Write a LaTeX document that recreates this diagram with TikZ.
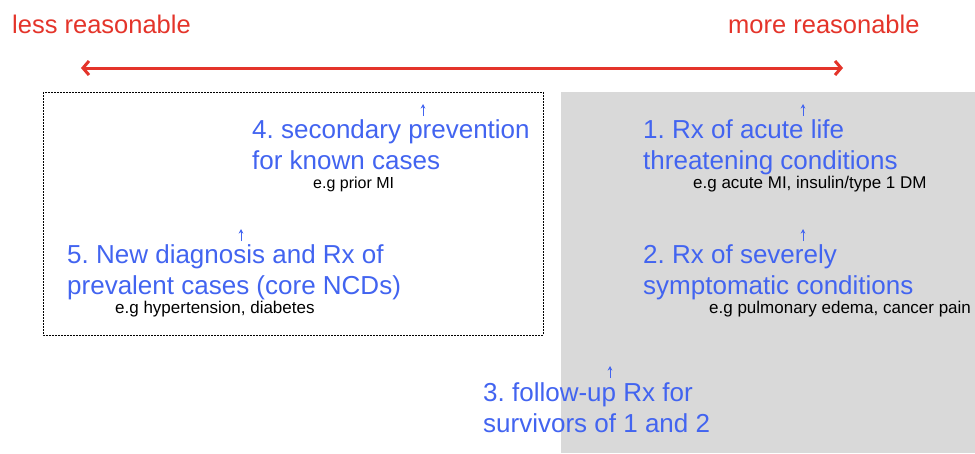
\documentclass[tikz,border=0pt]{standalone}
\usepackage{fontspec}
\setmainfont{Liberation Sans}
\usetikzlibrary{arrows.meta}

\definecolor{itemblue}{RGB}{66,100,240}
\definecolor{scalered}{RGB}{228,52,42}
\definecolor{rxgray}{RGB}{217,217,217}

\begin{document}
\frenchspacing
\begin{tikzpicture}[x=1pt, y=-1pt,
  scaletext/.style={text=scalered, font=\fontsize{25.5}{30}\selectfont, inner sep=0pt, anchor=base west},
  item/.style={text=itemblue, font=\fontsize{26}{31}\selectfont, align=left, inner sep=0pt, anchor=base west},
  example/.style={font=\fontsize{17}{20}\selectfont, inner sep=0pt, anchor=base west},
  tick/.style={itemblue, line width=1pt, -{Stealth[length=4.5pt,width=4.5pt]}}]
  \useasboundingbox (0,0) rectangle (975,453);

  % shaded side and dotted frame
  \fill[rxgray] (561,92) rectangle (975,453);
  \draw[line width=0.7pt, dash pattern=on 1.6pt off 1.4pt] (43,92) rectangle (543,335);

  % scale on top
  \node[scaletext] (less) at (12,33) {less reasonable};
  \node[scaletext] (more) at (728,33) {more reasonable};
  \coordinate (lessend) at (81,68);
  \coordinate (moreend) at (843,68);
  \draw[scalered, line width=3pt, {Straight Barb[length=6pt,width=14pt]}-{Straight Barb[length=6pt,width=14pt]}] (lessend) -- (moreend);

  % the five groups (base = last line)
  \node[item] (sec) at (252,169) {4. secondary prevention\\for known cases};
  \node[example, font=\fontsize{16}{19}\selectfont] (secex) at (313,188) {e.g prior MI};

  \node[item] (acute) at (643,169) {1. Rx of acute life\\threatening conditions};
  \node[example] (acuteex) at (693,188) {e.g acute MI, insulin/type 1 DM};

  \node[item] (newdx) at (67,294) {5. New diagnosis and Rx of\\prevalent cases (core NCDs)};
  \node[example] (newdxex) at (115,313) {e.g hypertension, diabetes};

  \node[item] (severe) at (643,294) {2. Rx of severely\\symptomatic conditions};
  \node[example] (severeex) at (709,313) {e.g pulmonary edema, cancer pain};

  \node[item] (follow) at (483,432) {3. follow-up Rx for\\survivors of 1 and 2};

  % small marks
  \draw[tick] (423,116) -- (423,104);
  \draw[tick] (803,116) -- (803,104);
  \draw[tick] (241,241) -- (241,229);
  \draw[tick] (803,241) -- (803,229);
  \draw[tick] (610,378) -- (610,366);
\end{tikzpicture}
\end{document}
